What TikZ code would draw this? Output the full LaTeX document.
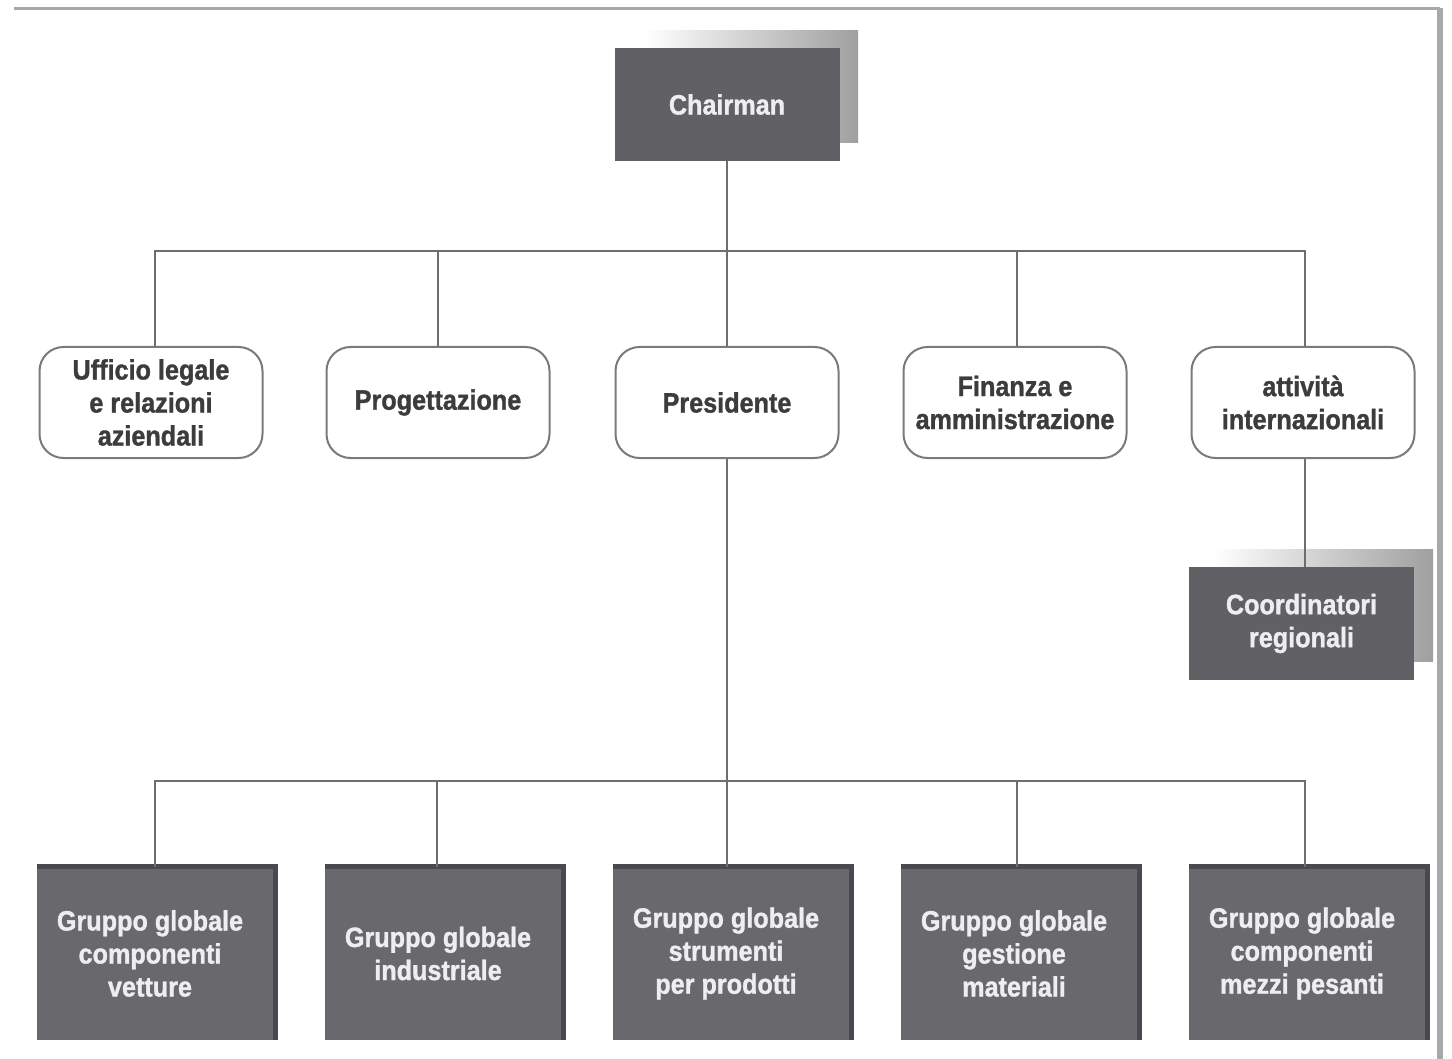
\documentclass[tikz,border=0pt]{standalone}
\usepackage{fontspec}
\newfontfamily\boxfont{Liberation Sans}[FakeStretch=0.9,FakeBold=1.2]
\begin{document}
\begin{tikzpicture}[x=0.5pt,y=-0.5pt,
  every node/.style={font=\boxfont\bfseries\fontsize{14}{16.5}\selectfont, align=center, inner sep=0pt},
  link/.style={draw=linkgray, line width=1.3pt},
  softbox/.style={draw=edgegray, line width=1pt, fill=white, rounded corners=12pt,
    minimum width=111.5pt, minimum height=55.5pt, text=textgray},
  darkbox/.style={fill=boxgray, minimum width=112.5pt, minimum height=56.5pt, text=lighttext},
  unitbox/.style={fill=unitgray, minimum width=119pt, minimum height=86.5pt},
  unitlabel/.style={text=lighttext}]
\definecolor{linkgray}{HTML}{6E6E70}
\definecolor{edgegray}{HTML}{7A7A7C}
\definecolor{textgray}{HTML}{3C3C3E}
\definecolor{lighttext}{HTML}{EEEEF0}
\definecolor{boxgray}{HTML}{616165}
\definecolor{unitgray}{HTML}{69696D}
\definecolor{rimgray}{HTML}{4A4A4E}
\definecolor{framegray}{HTML}{A8A8AA}

\useasboundingbox (0,0) rectangle (1452,1059);

% page frame (top and right edges)
\draw[framegray, line width=1.5pt] (14,9) -- (1440,9);
\draw[framegray, line width=3pt] (1440,8) -- (1440,1059);

% raised panels behind the dark header boxes
\shade[left color=white, right color=gray!75] (645,31) rectangle (858,143);
\shade[left color=white, right color=gray!75] (1213,549) rectangle (1433,661);

% top level
\node[darkbox] (chair) at (727,104.5) {Chairman};

% staff level
\node[softbox] (legal) at (151,402.5) {Ufficio legale\\e relazioni\\aziendali};
\node[softbox] (prog)  at (438,402.5) {Progettazione};
\node[softbox] (pres)  at (727,402.5) {Presidente};
\node[softbox] (fin)   at (1015,402.5) {Finanza e\\amministrazione};
\node[softbox] (intl)  at (1303,402.5) {attività\\internazionali};

\node[darkbox] (coord) at (1301.5,623.5) {Coordinatori\\regionali};

% global groups
\foreach \n/\cx/\t in {g1/156/{Gruppo globale\\componenti\\vetture},
                       g2/444/{Gruppo globale\\industriale},
                       g3/732/{Gruppo globale\\strumenti\\per prodotti},
                       g4/1020/{Gruppo globale\\gestione\\materiali},
                       g5/1308/{Gruppo globale\\componenti\\mezzi pesanti}}{
  \node[unitbox] (\n) at (\cx,953.5) {};
  \draw[rimgray, line width=2.5pt] (\n.north west) -- (\n.north east) -- (\n.south east);
  \node[unitlabel] at ([xshift=-3pt]\n.center) {\t};
}

% connectors
\coordinate (busA) at (727,251);
\coordinate (busB) at (727,781);
\draw[link] (chair.south) -- (busA);
\draw[link] ([xshift=2pt]legal.north) |- (busA);
\draw[link] (prog.north) |- (busA);
\draw[link] (pres.north) -- (busA);
\draw[link] ([xshift=1pt]fin.north) |- (busA);
\draw[link] ([xshift=1pt]intl.north) |- (busA);
\draw[link] ([xshift=1pt]intl.south) -- ([xshift=1pt]intl.south |- coord.north);
\draw[link] (pres.south) -- (busB);
\draw[link] ([xshift=-0.5pt]g1.north) |- (busB);
\draw[link] ([xshift=-3.5pt]g2.north) |- (busB);
\draw[link] ([xshift=-2.5pt]g3.north) -- (busB);
\draw[link] ([xshift=-1.5pt]g4.north) |- (busB);
\draw[link] ([xshift=-1.5pt]g5.north) |- (busB);
\end{tikzpicture}
\end{document}
